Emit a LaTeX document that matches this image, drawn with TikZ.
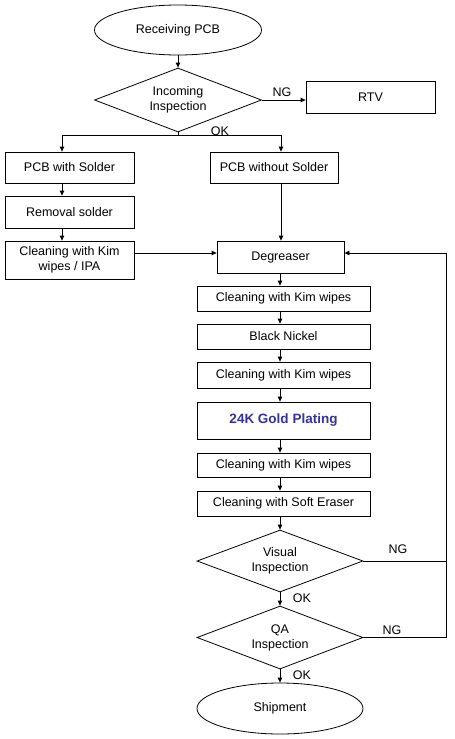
\documentclass[tikz,border=0pt]{standalone}
\usepackage{fontspec}
\setmainfont{Liberation Sans}
\definecolor{goldBlue}{HTML}{333399}
\usetikzlibrary{shapes.geometric, arrows.meta}

\begin{document}
\begin{tikzpicture}[x=1pt, y=-1pt, line width=0.8pt,
		>={Triangle[length=5pt,width=4.5pt]},
		txt/.style={font=\fontsize{12.5}{15}\selectfont, align=center},
		procbox/.style={txt, draw, rectangle, inner sep=0pt},
		decide/.style={txt, draw, diamond, inner sep=0pt, aspect=2.6},
		terminal/.style={txt, draw, ellipse, inner sep=0pt}]
		\useasboundingbox (0,0) rectangle (455,739);
		%-------------------------------------------------------------------------------
		% incoming
		%-------------------------------------------------------------------------------
		\node[terminal, minimum width=167pt, minimum height=50pt] (recv) 
			at (178,30) {Receiving PCB};
		\node[decide, minimum width=167pt, minimum height=64pt] (inc) 
			at (178,100) {Incoming\\Inspection};
		\node[procbox, minimum width=129pt, minimum height=32pt] (rtv) 
			at (370.5,97) {RTV};
		
		% two branches
		\node[procbox, minimum width=129pt, minimum height=31pt] (with) 
			at (69.5,167.5) {PCB with Solder};
		\node[procbox, minimum width=128pt, minimum height=31pt] (without) 
			at (274,167.5) {PCB without Solder};
		\node[procbox, minimum width=129pt, minimum height=32pt] (removal) 
			at (69.5,212) {Removal solder};
		\node[procbox, minimum width=129pt, minimum height=38pt] (ipa) 
			at (69.5,260) {Cleaning with Kim\\wipes / IPA};
		
		%-------------------------------------------------------------------------------
		% plating line
		%-------------------------------------------------------------------------------
		\node[procbox, minimum width=127pt, minimum height=32pt] (degr) 
			at (280.5,257) {Degreaser};
		\node[procbox, minimum width=173pt, minimum height=25pt] (kim1) 
			at (283.5,298.5) {Cleaning with Kim wipes};
		\node[procbox, minimum width=173pt, minimum height=25pt] (nickel) 
			at (283.5,336.5) {Black Nickel};
		\node[procbox, minimum width=173pt, minimum height=26pt] (kim2) 
			at (283.5,375) {Cleaning with Kim wipes};
		\node[procbox, minimum width=173pt, minimum height=37pt, text=goldBlue,
			font=\fontsize{13.5}{15}\selectfont\bfseries] (gold) 
			at (283.5,420.5) {24K Gold Plating};
		\node[procbox, minimum width=173pt, minimum height=24pt] (kim3) 
			at (283.5,465) {Cleaning with Kim wipes};
		\node[procbox, minimum width=173pt, minimum height=25pt] (eraser) 
			at (283.5,503.5) {Cleaning with Soft Eraser};
		\node[decide, minimum width=166pt, minimum height=62pt] (visual) 
			at (280,561) {Visual\\Inspection};
		\node[decide, minimum width=166pt, minimum height=63pt] (qa) 
			at (280,637.5) {QA\\Inspection};
		\node[terminal, minimum width=166pt, minimum height=51pt] (ship) 
			at (280,708.5) {Shipment};
		
		% helper points
		\coordinate (split) at (178,135);
		\coordinate (lft) at (62,135);
		\coordinate (rgt) at (281,135);
		\coordinate (axis) at (280,0);
		\coordinate (fb) at (446,253);
		
		% incoming flow
		\draw[->] (recv) -- (inc);
		\draw[->] (inc.east) -- (rtv.west |- inc.east);
		\draw (inc.south) -- (split);
		\draw (lft) -- (rgt);
		\draw[->] (lft) -- (lft |- with.north);
		\draw[->] (rgt) -- (rgt |- without.north);
		\draw[->] (with.south -| lft) -- (removal.north -| lft);
		\draw[->] (removal.south -| lft) -- (ipa.north -| lft);
		\draw[->] (without.south -| rgt) -- (degr.north -| rgt);
		\draw[->] (ipa.east |- fb) -- (degr.west |- fb);
		
		% plating flow
		\draw[->] (degr.south -| axis) -- (kim1.north -| axis);
		\draw[->] (kim1.south -| axis) -- (nickel.north -| axis);
		\draw[->] (nickel.south -| axis) -- (kim2.north -| axis);
		\draw[->] (kim2.south -| axis) -- (gold.north -| axis);
		\draw[->] (gold.south -| axis) -- (kim3.north -| axis);
		\draw[->] (kim3.south -| axis) -- (eraser.north -| axis);
		\draw[->] (eraser.south -| axis) -- (visual.north);
		\draw[->] (visual.south) -- (qa.north);
		\draw[->] (qa.south) -- (ship.north);
		
		% rework loop
		\draw (visual.east) -- (visual.east -| fb);
		\draw[->] (qa.east) -| (fb) -- (degr.east |- fb);
		
		% labels
		\node[txt] (ng1) at (282,92) {NG};
		\node[txt] (ok1) at (220,131) {OK};
		\node[txt] (ng2) at (398,549) {NG};
		\node[txt] (ok2) at (302,598) {OK};
		\node[txt] (ng3) at (392,630) {NG};
		\node[txt] (ok3) at (302,675) {OK};
\end{tikzpicture}
\end{document}
